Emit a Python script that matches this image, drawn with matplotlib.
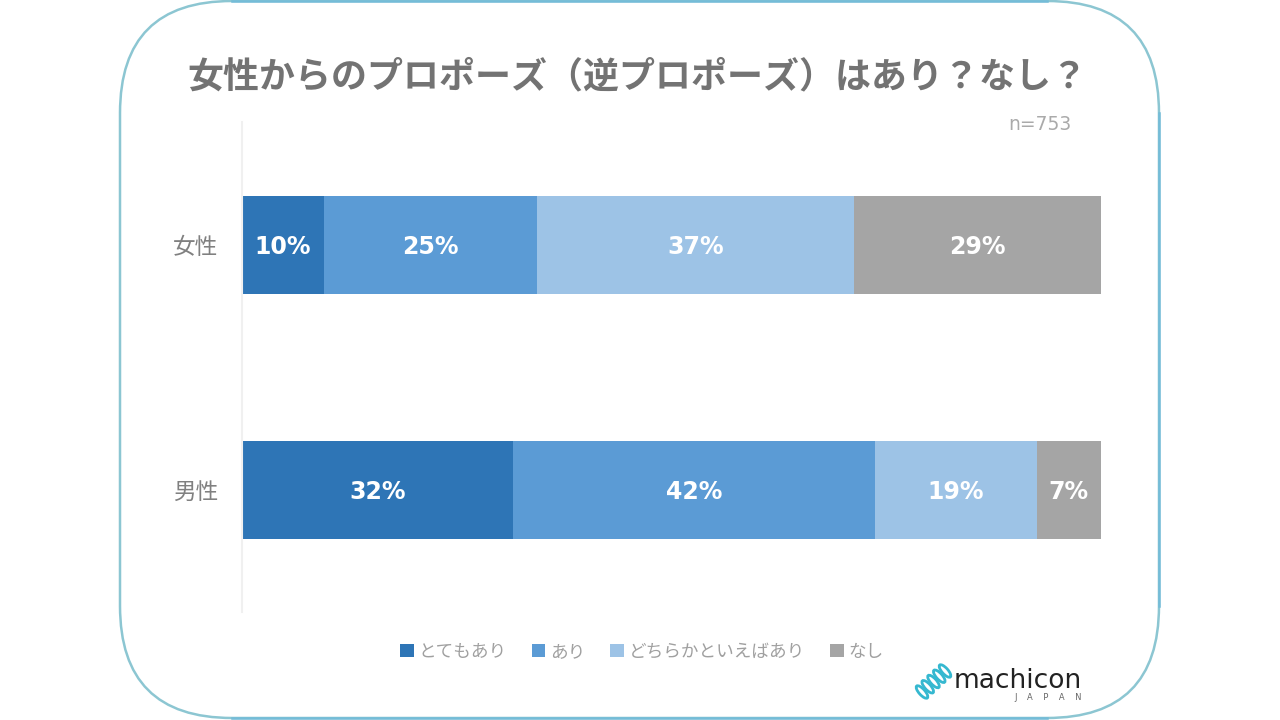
"""
Stacked bar chart: opinions on women proposing, by gender.
"""

import matplotlib
matplotlib.use("Agg")
import matplotlib.pyplot as plt
from matplotlib.patches import Ellipse, FancyBboxPatch

plt.rcParams["font.family"] = ["Noto Sans CJK JP", "DejaVu Sans"]

genders = ["女性", "男性"]
answers = ["とてもあり", "あり", "どちらかといえばあり", "なし"]
women = [9.6, 24.8, 36.9, 28.7]
men = [31.6, 42.1, 18.8, 7.5]
labels_women = ["10%", "25%", "37%", "29%"]
labels_men = ["32%", "42%", "19%", "7%"]
colors = ["#2e75b6", "#5b9bd5", "#9dc3e6", "#a5a5a5"]

W, H = 1280, 720
GRAY = "#808080"
LIGHT = "#a0a0a0"
R = 112

fig = plt.figure(figsize=(W / 100, H / 100), dpi=100, facecolor="white")

# background layer in pixel coordinates, y pointing down
bg = fig.add_axes([0, 0, 1, 1])
bg.set_xlim(0, W)
bg.set_ylim(H, 0)
bg.axis("off")

frame = FancyBboxPatch(
    (120 + R, 1 + R), 1039 - 2 * R, 717 - 2 * R,
    boxstyle=f"round,pad={R},rounding_size={R}",
    facecolor="white", edgecolor="#8cc6d2", linewidth=1.8,
)
bg.add_patch(frame)
# straight edges look bluer than the corners
bg.plot([120 + R, 1159 - R], [1, 1], color="#74bcd8", linewidth=1.8)
bg.plot([120 + R, 1159 - R], [718, 718], color="#74bcd8", linewidth=1.8)
bg.plot([1159, 1159], [1 + R, 718 - R], color="#74bcd8", linewidth=1.8)

bg.text(637.5, 77, "女性からのプロポーズ（逆プロポーズ）はあり？なし？",
        ha="center", va="center", fontsize=25.9, fontweight="bold", color="#737373")
bg.text(1071, 124, "n=753", ha="right", va="center", fontsize=13.5,
        color="#aaaaaa", family="DejaVu Sans")

# logo
for i in range(5):
    bg.add_patch(Ellipse((922 + i * 5.75, 692 - i * 5.25), 16, 6, angle=48,
                         facecolor="none", edgecolor="#35b8d0", linewidth=2))
bg.text(954, 681, "machicon", ha="left", va="center", fontsize=19,
        color="#222222", family="DejaVu Sans")
bg.text(1082, 697, "J    A    P    A    N", ha="right", va="center", fontsize=6,
        color="#666666", family="DejaVu Sans")

# chart, axes box set so that the bars land on the reference pixels
ax = fig.add_axes([241.5 / W, 1 - 612 / H, 859.5 / W, 490 / H])
ax.patch.set_alpha(0)
left = [0, 0]
for i, answer in enumerate(answers):
    vals = [women[i], men[i]]
    bars = ax.barh(range(len(genders)), vals, left=left, height=0.4,
                   color=colors[i], label=answer)
    texts = ax.bar_label(bars, labels=[labels_women[i], labels_men[i]], label_type="center",
                         color="white", fontsize=17, fontweight="bold", family="DejaVu Sans")
    for t in texts:
        t.xyann = (0, -2)
    left = [left[0] + vals[0], left[1] + vals[1]]

ax.set_xlim(0, 100)
ax.set_ylim(1.5, -0.5)
ax.set_yticks(range(len(genders)), genders)
ax.set_xticks([])
ax.tick_params(axis="y", length=0, pad=17, labelsize=16.3, labelcolor=GRAY)
for side in ["top", "right", "bottom"]:
    ax.spines[side].set_visible(False)
ax.spines["left"].set_color("#f0f0f0")
ax.spines["left"].set_linewidth(1.5)

fig.legend(loc="center", bbox_to_anchor=(642 / W, 1 - 652 / H), ncol=4, frameon=False,
           fontsize=12.7, labelcolor=LIGHT, handlelength=0.78, handleheight=0.78,
           handletextpad=0.28, columnspacing=1.4)

fig.savefig("out.png", dpi=100)
